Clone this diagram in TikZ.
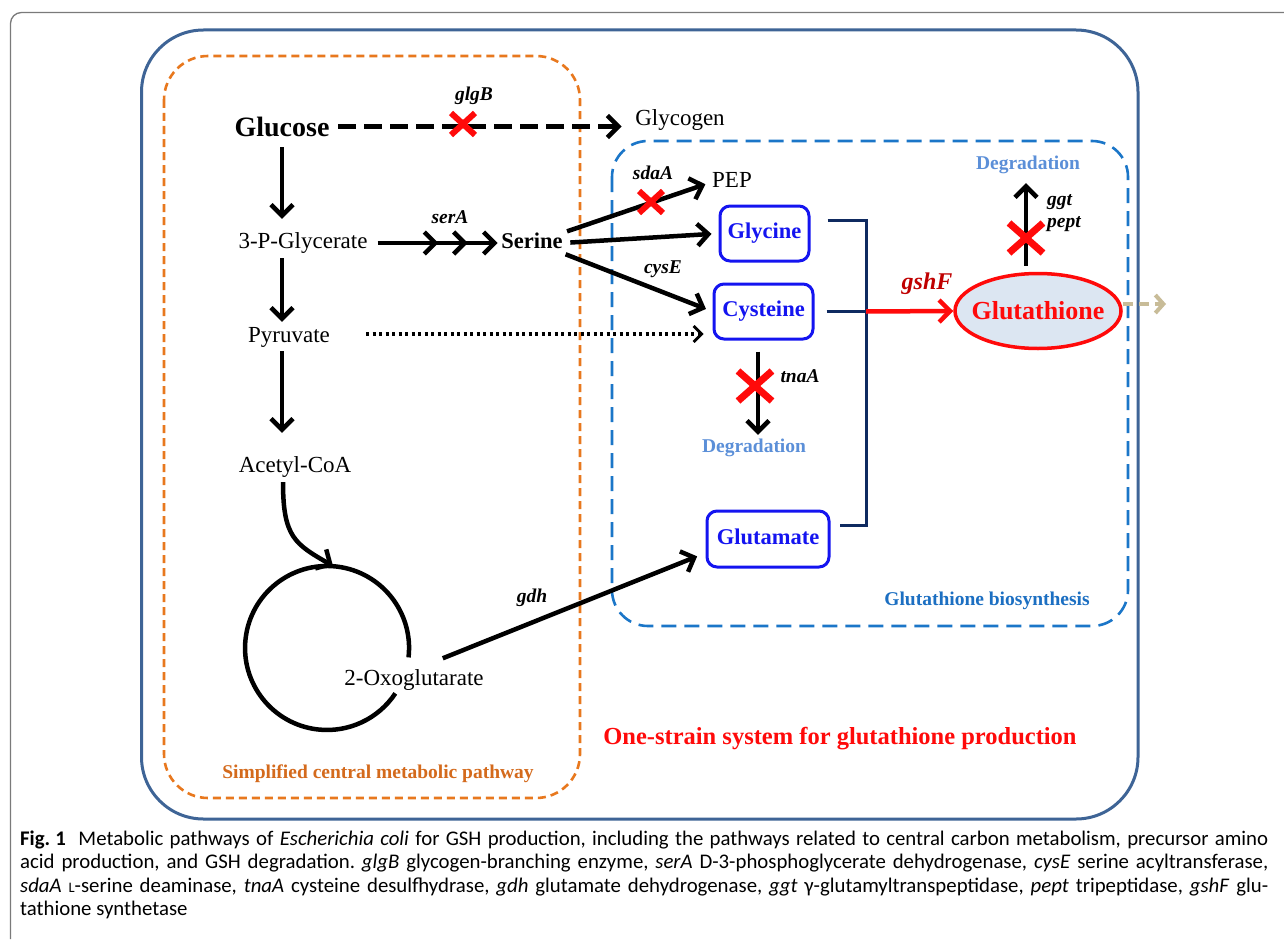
\documentclass[tikz,border=0pt]{standalone}
\usepackage{fontspec}
\setmainfont{Liberation Serif}
\newfontfamily\capfont{Carlito}
\usetikzlibrary{arrows.meta,shapes.geometric,decorations.markings}
\newcommand\fsz[1]{\fontsize{#1}{#1}\selectfont}
\frenchspacing
\definecolor{frameblue}{HTML}{3E6496}
\definecolor{dorange}{HTML}{E8781E}
\definecolor{dblue}{HTML}{1B76C8}
\definecolor{boxblue}{HTML}{1414F0}
\definecolor{bracknavy}{HTML}{0F2A60}
\definecolor{degblue}{HTML}{5B8FD8}
\definecolor{bioblue}{HTML}{1C6FC2}
\definecolor{simporange}{HTML}{D46A1C}
\definecolor{xred}{HTML}{FF0A0A}
\definecolor{gshred}{HTML}{C00000}
\definecolor{tanout}{HTML}{C8BC98}
\definecolor{gshfill}{HTML}{DCE6F2}
\definecolor{framegray}{HTML}{7A7A7A}
\begin{document}
\begin{tikzpicture}[x=1pt,y=-1pt,
  met/.style={font=\fsz{23}, inner sep=0pt, text height=15pt, text depth=5pt, anchor=base},
  metb/.style={met, font=\bfseries\fsz{22.5}},
  gene/.style={font=\bfseries\itshape\fsz{19.5}, inner sep=0pt, anchor=base},
  deg/.style={font=\bfseries\fsz{19.5}, text=degblue, inner sep=0pt, text height=14pt, text depth=4pt, anchor=base},
  aabox/.style={draw=boxblue, line width=3pt, rounded corners=10pt, font=\bfseries\fsz{22.5}, text=boxblue, inner sep=0pt, text height=15pt, text depth=5pt, minimum height=55pt},
  arr/.style={line width=4.5pt, -{Straight Barb[length=11pt,width=22pt]}},
  lab/.style={font=\bfseries\fsz{19.5}, inner sep=0pt, anchor=base},
  captxt/.style={font=\capfont\fsz{20.8}, inner sep=0pt, anchor=base west},
  knocks/.pic={\draw[xred, line width=6pt] (-12,-11) -- (12,11) (-12,11) -- (12,-11);},
  knockl/.pic={\draw[xred, line width=7pt] (-17,-15) -- (17,15) (-17,15) -- (17,-15);}
]
\useasboundingbox (0,0) rectangle (1284,939);
\fill[white] (0,0) rectangle (1284,939);

% frames
\draw[framegray, line width=1.3pt, rounded corners=11pt] (10.5,939) -- (10.5,12.5) -- (1284,12.5);
\draw[frameblue, line width=3pt, rounded corners=62pt] (141.5,30) rectangle (1138,819);
\draw[dorange, line width=2.6pt, dash pattern=on 8pt off 5pt, rounded corners=44pt] (164,56) rectangle (580,798);
\draw[dblue, line width=2.6pt, dash pattern=on 15pt off 8pt, rounded corners=36pt] (612,141) rectangle (1128,626);

% metabolites
\node[met, font=\bfseries\fsz{28}, text height=19pt, text depth=0pt] (glc) at (282,136) {Glucose};
\node[met] (glycogen) at (680,125) {Glycogen};
\node[met] (pg) at (303,248) {3-P-Glycerate};
\node[met] (pyr) at (289,342) {Pyruvate};
\node[met] (acoa) at (295,472) {Acetyl-CoA};
\node[met] (oxo) at (414,685) {2-Oxoglutarate};
\node[metb] (ser) at (532,248) {Serine};
\node[met] (pep) at (732,187) {PEP};

\node[aabox, minimum width=89pt] (glyc) at (764.5,233.5) {Glycine};
\node[aabox, minimum width=99pt] (cys) at (763.5,311.5) {Cysteine};
\node[aabox, minimum width=122pt, minimum height=56pt] (glu) at (768,539) {Glutamate};

\node[ellipse, draw=xred, line width=3.5pt, fill=gshfill, minimum width=166pt, minimum height=75pt, inner xsep=-25pt, inner ysep=0pt, font=\bfseries\fsz{26}, text=xred] (gsh) at (1038,311) {Glutathione};

\node[deg] (deg1) at (754,452) {Degradation};
\node[deg] (deg2) at (1028,169) {Degradation};

% gene labels
\node[gene] (glgB) at (474,101) {glgB};
\node[gene] (serA) at (450,223) {serA};
\node[gene] (sdaA) at (653,179) {sdaA};
\node[gene] (cysE) at (663,273) {cysE};
\node[gene] (tnaA) at (800,382) {tnaA};
\node[gene, anchor=base west] (ggt) at (1047,205) {ggt};
\node[gene, anchor=base west] (pept) at (1047,227) {pept};
\node[gene, font=\bfseries\itshape\fsz{24}, text=gshred] (gshF) at (927,289) {gshF};
\node[gene] (gdh) at (532,602) {gdh};

% region labels
\node[lab, text=simporange] (simp) at (378,778) {Simplified central metabolic pathway};
\node[lab, text=bioblue] (gbio) at (987,605) {Glutathione biosynthesis};
\node[lab, font=\bfseries\fsz{24.5}, text=xred] (one) at (840,744) {One-strain system for glutathione production};

% connectors
\draw[arr, dash pattern=on 18pt off 8pt, shorten <=8.5pt, shorten >=13.5pt] (glc.east) -- (glycogen.west |- glc.east);
\draw[arr, shorten <=11pt, shorten >=14pt] (glc.south) -- (glc.south |- pg.north);
\draw[arr, shorten <=5pt, shorten >=5pt] (glc |- pg.south) -- (glc |- pyr.north);
\draw[arr, shorten <=4pt, shorten >=24pt] (glc |- pyr.south) -- (glc |- acoa.north);
\draw[arr, shorten <=10pt, shorten >=3.5pt,
  postaction={decorate, decoration={markings,
    mark=at position 0.53 with {\arrow{Straight Barb[length=11pt,width=22pt]}},
    mark=at position 0.75 with {\arrow{Straight Barb[length=11pt,width=22pt]}}}}]
  (pg.east) -- (ser.west);
\draw[arr, shorten <=4.5pt, shorten >=7pt] (ser.north east) -- (pep.west);
\draw[arr, shorten <=7.5pt, shorten >=7pt] (ser.east) -- (glyc.west);
\draw[arr, shorten <=3pt, shorten >=7pt] (ser.south east) -- (cys.west);
\draw[line width=3.2pt, dash pattern=on 3pt off 3.5pt, -{Straight Barb[length=8pt,width=16pt,line width=2.8pt]}, shorten <=36pt, shorten >=9pt]
  ([yshift=3pt]pyr.east) -- ([yshift=3pt]pyr.east -| cys.west);
\draw[arr, shorten <=11pt, shorten >=3pt] ([xshift=-5.5pt]cys.south) -- ([xshift=-5.5pt]cys.south |- deg1.north);
\draw[arr, shorten <=6pt, shorten >=10pt] ([xshift=-12pt]gsh.north) -- ([xshift=-12pt]gsh.north |- deg2.south);
\draw[arr, shorten <=31pt, shorten >=9pt] (oxo.north) -- ([yshift=-14pt]glu.west);

% TCA cycle
\coordinate (tcatop) at (333,566);
\draw[line width=4.5pt] (408.5,657.4) arc[start angle=6.6, end angle=-326.4, radius=82];
\draw[arr, shorten <=5pt] ([xshift=-12pt]acoa.south) .. controls +(0,60) and +(-38,-22) .. (tcatop);

% bracket to glutathione
\coordinate (jtop) at (866,220);
\coordinate (jmid) at (866,311.5);
\coordinate (jbot) at (866,525);
\draw[bracknavy, line width=3pt] ([xshift=17pt]glyc.east |- jtop) -- (jtop) -- (jbot) -- ([xshift=9pt]glu.east |- jbot);
\draw[bracknavy, line width=3pt] ([xshift=12pt]cys.east) -- (jmid);
\draw[xred, line width=4.5pt, -{Straight Barb[length=11pt,width=22pt]}] (jmid) -- (gsh.west);
\coordinate (gout) at (1166,304);
\draw[tanout, line width=4pt, dash pattern=on 10pt off 6pt, -{Straight Barb[length=8pt,width=18pt]}] (gsh.east |- gout) -- (gout);

% knockouts
\pic at (463,124) {knocks};
\pic at (651,202) {knocks};
\pic at (755,386) {knockl};
\pic at (1026,238) {knockl};

% caption
\node[captxt] (cap1) at (20,845) {\makebox[1248pt][s]{\textbf{Fig.\hspace{0.25em}1}\hspace{0.6em}Metabolic pathways of \textit{Escherichia coli} for GSH production, including the pathways related to central carbon metabolism, precursor amino}};
\node[captxt] (cap2) at (20,868) {\makebox[1248pt][s]{acid production, and GSH degradation. \textit{glgB} glycogen-branching enzyme, \textit{serA} D-3-phosphoglycerate dehydrogenase, \textit{cysE} serine acyltransferase,}};
\node[captxt] (cap3) at (20,892) {\makebox[1248pt][s]{\textit{sdaA} {\fsz{14.5}L}-serine deaminase, \textit{tnaA} cysteine desulfhydrase, \textit{gdh} glutamate dehydrogenase, \textit{ggt} γ-glutamyltranspeptidase, \textit{pept} tripeptidase, \textit{gshF} glu-}};
\node[captxt] (cap4) at (20,915) {tathione synthetase};
\end{tikzpicture}
\end{document}
